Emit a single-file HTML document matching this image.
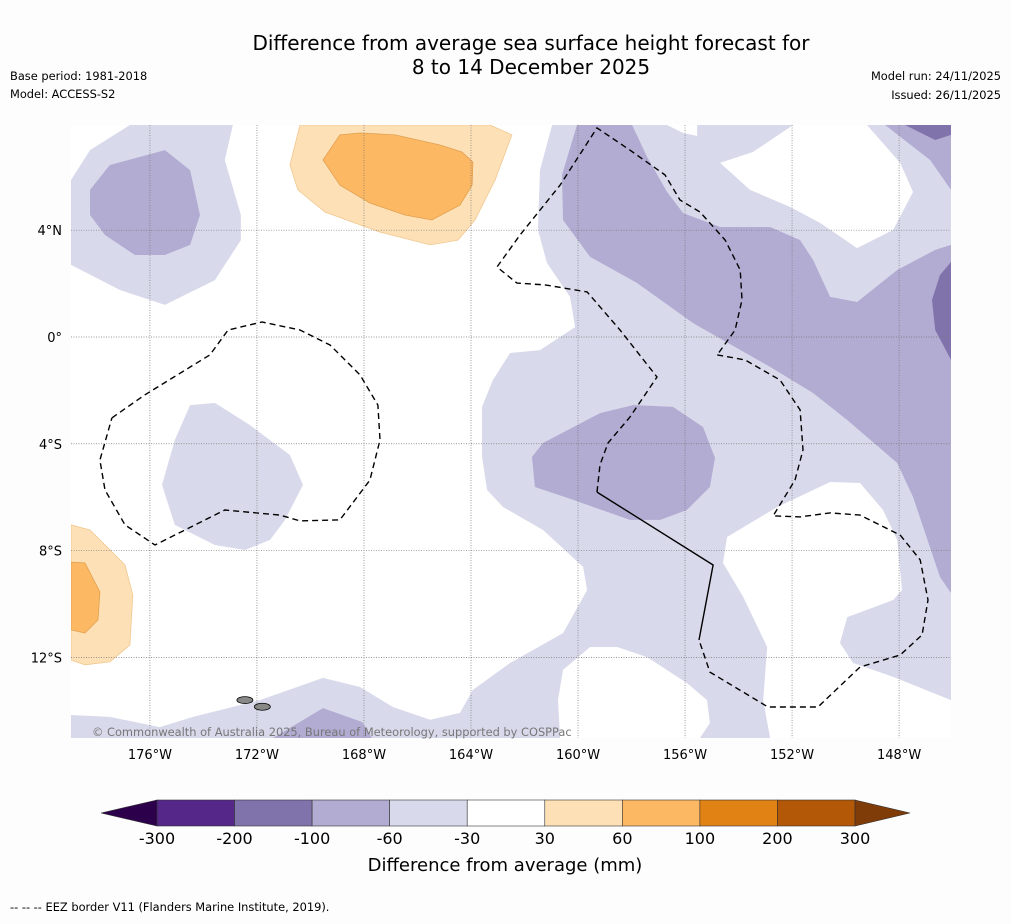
<!DOCTYPE html>
<html><head><meta charset="utf-8"><style>
body{margin:0;background:#fdfdfd;font-family:"Liberation Sans","DejaVu Sans",sans-serif;}
svg text{font-family:"DejaVu Sans","Liberation Sans",sans-serif;}
</style></head><body>
<svg id="chart" width="1011" height="919" viewBox="0 0 1011 919" xmlns="http://www.w3.org/2000/svg">
<rect width="1011" height="919" fill="#fdfdfd"/>
<text x="531" y="50" text-anchor="middle" font-size="20" fill="#000">Difference from average sea surface height forecast for</text>
<text x="531" y="74" text-anchor="middle" font-size="20" fill="#000">8 to 14 December 2025</text>
<text x="10" y="80" font-size="11.4">Base period: 1981-2018</text>
<text x="10" y="98" font-size="11.4">Model: ACCESS-S2</text>
<text x="1001" y="80" font-size="11.4" text-anchor="end">Model run: 24/11/2025</text>
<text x="1001" y="99" font-size="11.4" text-anchor="end">Issued: 26/11/2025</text>
<defs><clipPath id="mapclip"><rect x="71" y="125" width="880" height="613"/></clipPath></defs>
<g id="map" clip-path="url(#mapclip)">
<rect x="71" y="125" width="880" height="613" fill="#ffffff"/>
</g>
<g id="grid"></g>
<g id="eez"></g>
<text x="92" y="736" font-size="11.4" fill="#777">© Commonwealth of Australia 2025, Bureau of Meteorology, supported by COSPPac</text>
<g id="axes"></g>
<g id="cbar"></g>
<text x="505" y="871" text-anchor="middle" font-size="18">Difference from average (mm)</text>
<text x="10" y="911" font-size="11.4">--  --  -- EEZ border V11 (Flanders Marine Institute, 2019).</text>
</svg>
<script>
const lonTicks=[-176,-172,-168,-164,-160,-156,-152,-148];
const latTicks=[4,0,-4,-8,-12];
const levels=[-300,-200,-100,-60,-30,30,60,100,200,300];
const levelColors=["#542788","#8073ac","#b2abd2","#d8daeb","#ffffff","#fee0b6","#fdb863","#e08214","#b35806"];
const extendColors=["#2d004b","#7f3b08"];
const LL="#d8daeb",MD="#b2abd2",DK="#8073ac",LO="#fee0b6",OR="#fdb863";
const contourLightBig=[[-160.97,7.94],[-146.06,7.94],[-146.06,-15.02],[-178.95,-15.02],[-178.95,-14.16],[-177.5,-14.23],[-175.63,-14.61],[-174.39,-14.23],[-171.89,-13.6],[-169.53,-12.77],[-168.15,-13.11],[-166.92,-13.86],[-165.53,-14.34],[-164.41,-14.08],[-163.93,-13.22],[-162.54,-12.21],[-160.56,-11.09],[-159.66,-9.48],[-159.81,-8.61],[-161.31,-7.23],[-162.8,-6.37],[-163.4,-5.73],[-163.59,-4.49],[-163.59,-2.62],[-163.18,-1.61],[-162.54,-0.6],[-161.42,-0.49],[-160.11,0.37],[-160.3,1.5],[-161.16,2.77],[-161.5,4.01],[-161.42,6.25]];
const contourLightTL=[[-178.95,5.88],[-178.24,7.0],[-176.75,7.94],[-172.9,7.94],[-173.2,6.63],[-172.6,4.57],[-172.6,3.63],[-173.57,2.13],[-175.44,1.2],[-177.12,1.76],[-178.95,2.7]];
const contourLightCL=[[-174.5,-2.55],[-173.57,-2.47],[-172.26,-3.3],[-170.77,-4.42],[-170.28,-5.54],[-170.95,-6.85],[-171.51,-7.6],[-172.45,-7.98],[-173.57,-7.79],[-175.07,-7.04],[-175.55,-5.54],[-175.07,-3.86]];
const whiteTop=[[-151.96,7.94],[-149.2,7.94],[-147.96,6.52],[-147.48,5.43],[-148.22,4.01],[-149.57,3.33],[-150.95,4.27],[-152.07,4.87],[-153.57,5.51],[-154.69,6.52],[-153.46,6.93]];
const whiteNotch=[[-156.67,7.94],[-155.55,7.94],[-155.55,7.53],[-156.07,7.64]];
const whiteBottomC=[[-160.67,-15.02],[-160.75,-13.6],[-160.56,-12.47],[-159.55,-11.61],[-158.54,-11.61],[-157.42,-11.99],[-155.93,-12.96],[-155.18,-13.6],[-155.07,-14.46],[-155.44,-15.02]];
const whiteBottomR=[[-154.43,-7.49],[-152.56,-6.37],[-150.58,-5.43],[-149.46,-5.47],[-148.6,-6.48],[-148.07,-7.6],[-147.89,-9.48],[-148.22,-9.85],[-149.94,-10.49],[-150.21,-11.46],[-149.72,-12.21],[-148.22,-12.73],[-146.06,-13.6],[-146.06,-15.02],[-152.82,-15.02],[-153.08,-13.6],[-152.93,-11.61],[-153.83,-9.73],[-154.58,-8.46]];
const medBand=[[-160.04,7.94],[-157.98,7.94],[-157.42,6.74],[-156.67,5.43],[-156.07,4.64],[-154.69,4.12],[-152.82,4.12],[-151.7,3.63],[-151.21,2.88],[-150.58,1.5],[-149.57,1.31],[-148.07,2.51],[-146.65,3.26],[-146.06,3.45],[-146.06,-9.59],[-146.47,-8.99],[-147.48,-5.99],[-148.07,-4.72],[-149.94,-3.11],[-151.21,-2.1],[-152.82,-1.12],[-155.7,0.52],[-157.79,2.02],[-159.55,3.0],[-160.56,4.38],[-160.6,6.07]];
const medTL=[[-178.24,5.51],[-177.5,6.44],[-175.44,7.0],[-174.5,6.25],[-174.13,4.57],[-174.5,3.45],[-175.44,3.07],[-176.56,3.07],[-177.68,3.82],[-178.24,4.57]];
const medTR=[[-148.52,7.94],[-146.06,7.94],[-146.06,5.51],[-146.84,6.63]];
const medCenter=[[-161.72,-4.49],[-161.31,-3.97],[-159.18,-2.85],[-157.94,-2.55],[-156.45,-2.62],[-155.33,-3.37],[-154.88,-4.53],[-155.07,-5.62],[-155.93,-6.48],[-156.93,-6.85],[-158.06,-6.85],[-160.19,-6.1],[-161.61,-5.62]];
const medBottom=[[-171.4,-15.02],[-169.53,-13.9],[-168.07,-14.42],[-167.7,-15.02]];
const darkTR=[[-147.78,7.94],[-146.06,7.94],[-146.06,7.57],[-146.65,7.38]];
const darkR=[[-146.06,2.81],[-146.47,2.32],[-146.77,1.39],[-146.65,0.26],[-146.06,-0.86]];
const orangeLightTop=[[-170.39,7.94],[-163.29,7.94],[-162.47,7.57],[-163.1,5.88],[-163.85,4.38],[-164.49,3.63],[-165.53,3.45],[-167.4,3.93],[-169.46,4.68],[-170.47,5.51],[-170.77,6.44]];
const orangeTop=[[-169.53,6.63],[-168.9,7.57],[-168.15,7.64],[-166.84,7.57],[-165.16,7.19],[-164.34,6.93],[-163.93,6.55],[-163.96,5.69],[-164.41,4.94],[-165.46,4.38],[-166.47,4.57],[-167.78,5.02],[-168.9,5.69]];
const orangeLightLeft=[[-178.95,-7.04],[-178.24,-7.23],[-176.93,-8.54],[-176.64,-9.66],[-176.75,-11.54],[-177.5,-12.17],[-178.43,-12.28],[-178.95,-12.1]];
const orangeLeft=[[-178.95,-8.43],[-178.43,-8.46],[-177.87,-9.55],[-177.94,-10.6],[-178.43,-11.09],[-178.95,-10.97]];
const eezLeft=[[-177.42,-3.03],[-176.19,-2.17],[-173.76,-0.67],[-173.08,0.26],[-171.81,0.56],[-170.39,0.26],[-169.27,-0.3],[-168.15,-1.42],[-167.48,-2.55],[-167.4,-3.86],[-167.78,-5.36],[-168.9,-6.85],[-170.39,-6.89],[-171.14,-6.67],[-173.2,-6.48],[-175.81,-7.79],[-176.93,-7.04],[-177.68,-5.73],[-177.87,-4.61],[-177.42,-3.03]];
const eezCenter=[[-159.29,-5.81],[-159.18,-4.79],[-158.88,-3.97],[-158.06,-3.0],[-157.05,-1.5],[-158.43,0.26],[-159.66,1.69],[-161.23,1.95],[-162.28,2.02],[-163.03,2.62],[-162.17,3.82],[-160.67,5.69],[-159.29,7.83],[-158.06,7.0],[-156.75,6.07],[-156.19,5.13],[-155.44,4.68],[-154.5,3.63],[-153.94,2.51],[-153.87,1.39],[-154.13,0.26],[-154.8,-0.67]];
const eezRight=[[-154.8,-0.67],[-153.76,-0.86],[-152.45,-1.61],[-151.7,-2.73],[-151.59,-4.23],[-151.89,-5.36],[-152.71,-6.7],[-151.7,-6.74],[-150.58,-6.59],[-149.46,-6.67],[-147.96,-7.42],[-147.21,-8.35],[-146.92,-9.85],[-147.14,-11.16],[-147.96,-11.91],[-149.46,-12.36],[-151.03,-13.86],[-152.9,-13.86],[-155.07,-12.55],[-155.48,-11.35]];
const eezSolid=[[-155.48,-11.35],[-154.95,-8.54],[-159.29,-5.81]];
const islands=[[-172.45,-13.6],[-171.8,-13.85]];

const NS="http://www.w3.org/2000/svg";
const X0=71,X1=951,Y0=125,Y1=738,LON0=-178.95,LON1=-146.06,LAT0=7.94,LAT1=-15.02;
function xs(lon){return X0+(lon-LON0)/(LON1-LON0)*(X1-X0);}
function ys(lat){return Y0+(lat-LAT0)/(LAT1-LAT0)*(Y1-Y0);}
function pts(a){return a.map(p=>xs(p[0]).toFixed(1)+","+ys(p[1]).toFixed(1)).join(" ");}
const map=document.getElementById('map');
function poly(parent,a,fill,name,stroke){
 const e=document.createElementNS(NS,'polygon');
 e.setAttribute('points',pts(a));e.setAttribute('fill',fill);
 if(stroke){e.setAttribute('stroke',stroke);e.setAttribute('stroke-width','0.8');}
 
 
 parent.appendChild(e);}
poly(map,contourLightBig,LL,'contour-neg30-east');
poly(map,contourLightTL,LL,'contour-neg30-northwest');
poly(map,contourLightCL,LL,'contour-neg30-west');
poly(map,whiteTop,'#ffffff','neutral-region-northeast');
poly(map,whiteNotch,'#ffffff','neutral-region-notch');
poly(map,whiteBottomC,'#ffffff','neutral-region-south');
poly(map,whiteBottomR,'#ffffff','neutral-region-southeast');
poly(map,medBand,MD,'contour-neg60-band');
poly(map,medTL,MD,'contour-neg60-northwest');
poly(map,medTR,MD,'contour-neg60-northeast');
poly(map,medCenter,MD,'contour-neg60-center');
poly(map,medBottom,MD,'contour-neg60-south');
poly(map,darkTR,DK,'contour-neg100-northeast');
poly(map,darkR,DK,'contour-neg100-east');
poly(map,orangeLightTop,LO,'contour-pos30-north','#f0c890');
poly(map,orangeTop,OR,'contour-pos60-north','#e0a050');
poly(map,orangeLightLeft,LO,'contour-pos30-west','#f0c890');
poly(map,orangeLeft,OR,'contour-pos60-west','#e0a050');
islands.forEach((p,i)=>{const e=document.createElementNS(NS,'ellipse');
 e.setAttribute('cx',xs(p[0]));e.setAttribute('cy',ys(p[1]));e.setAttribute('rx',8);e.setAttribute('ry',3.5);
 e.setAttribute('fill','#888');e.setAttribute('stroke','#000');e.setAttribute('stroke-width','0.8');
 
 
 map.appendChild(e);});
const grid=document.getElementById('grid'),axes=document.getElementById('axes');
lonTicks.forEach(v=>{const l=document.createElementNS(NS,'line');
 l.setAttribute('x1',xs(v));l.setAttribute('x2',xs(v));l.setAttribute('y1',Y0);l.setAttribute('y2',Y1);
 l.setAttribute('stroke','#777');l.setAttribute('stroke-width','0.7');l.setAttribute('stroke-dasharray','1,1.5');
 
 
 grid.appendChild(l);
 const t=document.createElementNS(NS,'text');t.setAttribute('x',xs(v));t.setAttribute('y',759);
 t.setAttribute('text-anchor','middle');t.setAttribute('font-size','13');t.textContent=Math.abs(v)+'°W';
 
 
 axes.appendChild(t);});
latTicks.forEach(v=>{const l=document.createElementNS(NS,'line');
 l.setAttribute('x1',X0);l.setAttribute('x2',X1);l.setAttribute('y1',ys(v));l.setAttribute('y2',ys(v));
 l.setAttribute('stroke','#777');l.setAttribute('stroke-width','0.7');l.setAttribute('stroke-dasharray','1,1.5');
 
 
 grid.appendChild(l);
 const t=document.createElementNS(NS,'text');t.setAttribute('x',62);t.setAttribute('y',ys(v)+5);
 t.setAttribute('text-anchor','end');t.setAttribute('font-size','13');
 t.textContent=v===0?'0°':Math.abs(v)+'°'+(v>0?'N':'S');
 
 
 axes.appendChild(t);});
const eez=document.getElementById('eez');
function line(a,dash,name){const e=document.createElementNS(NS,'polyline');
 e.setAttribute('points',pts(a));e.setAttribute('fill','none');e.setAttribute('stroke','#000');e.setAttribute('stroke-width','1.4');
 if(dash)e.setAttribute('stroke-dasharray','6,4');
 
 
 eez.appendChild(e);}
line(eezLeft,true,'eez-border-west');line(eezCenter,true,'eez-border-center');line(eezRight,true,'eez-border-east');line(eezSolid,false,'eez-border-solid');
const cb=document.getElementById('cbar');const CB0=157,CB1=855,CBY=800,CBH=26;
const bw=(CB1-CB0)/(levels.length-1);
function cbx(i){return CB0+i*bw;}
levelColors.forEach((c,i)=>{const r=document.createElementNS(NS,'rect');
 r.setAttribute('x',cbx(i));r.setAttribute('y',CBY);r.setAttribute('width',bw);r.setAttribute('height',CBH);
 r.setAttribute('fill',c);r.setAttribute('stroke','#333');r.setAttribute('stroke-width','0.6');
 
 
 cb.appendChild(r);});
[[CB0,101,extendColors[0]],[CB1,910,extendColors[1]]].forEach((d,i)=>{const p=document.createElementNS(NS,'polygon');
 p.setAttribute('points',d[0]+','+CBY+' '+d[1]+','+(CBY+CBH/2)+' '+d[0]+','+(CBY+CBH));
 p.setAttribute('fill',d[2]);p.setAttribute('stroke','#333');p.setAttribute('stroke-width','0.6');
 
 
 cb.appendChild(p);});
levels.forEach((v,i)=>{const t=document.createElementNS(NS,'text');
 t.setAttribute('x',cbx(i));t.setAttribute('y',844);t.setAttribute('text-anchor','middle');t.setAttribute('font-size','16');
 t.textContent=v;
 
 
 cb.appendChild(t);});
</script>
</body></html>
